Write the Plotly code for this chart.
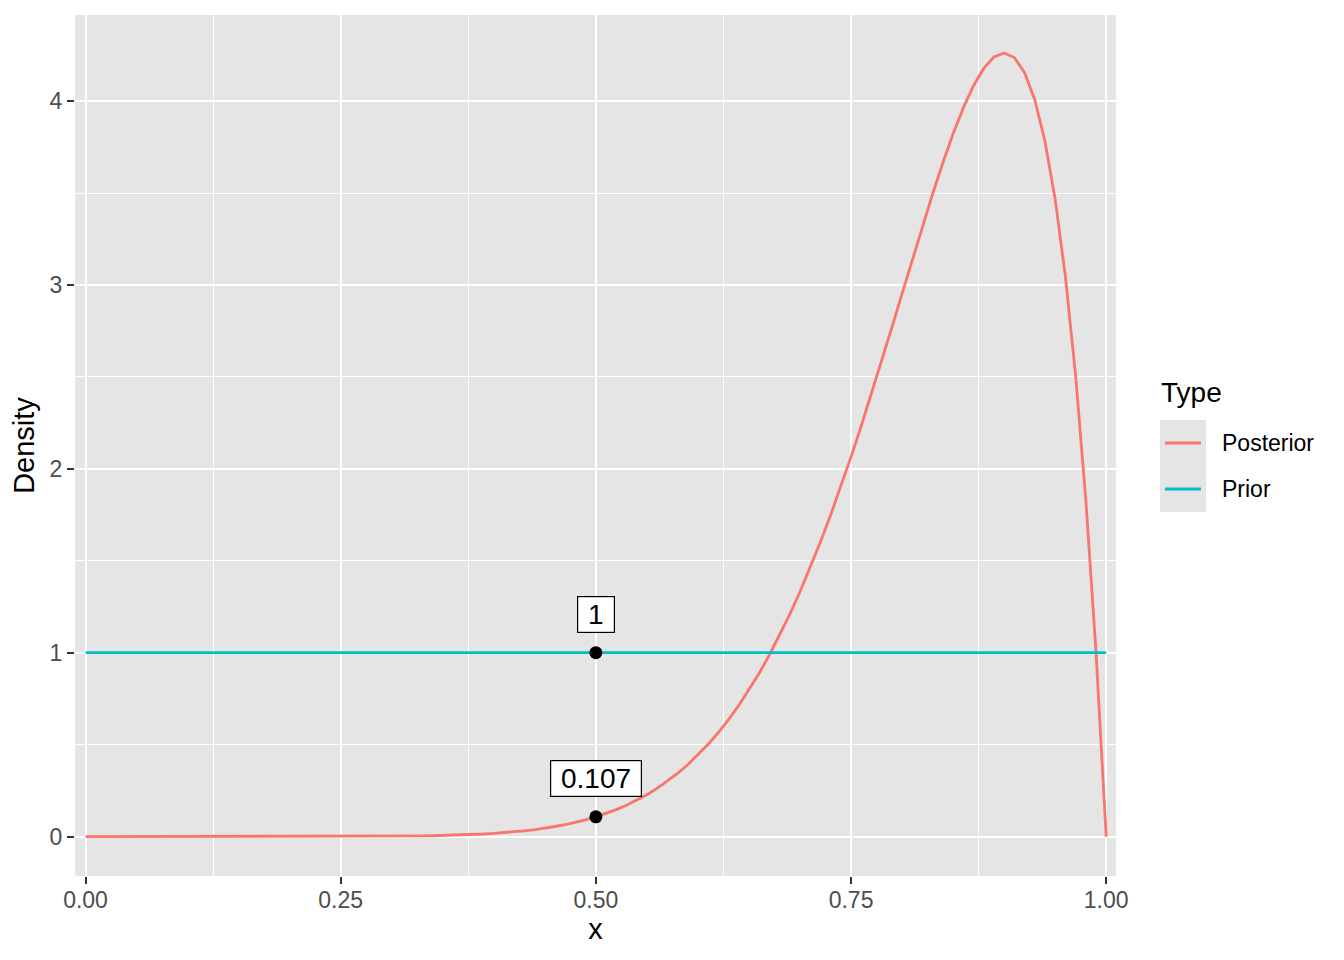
import plotly.graph_objects as go

# ---- data ----
x_post = [0.00, 0.05, 0.10, 0.15, 0.20, 0.25, 0.30, 0.31, 0.32, 0.33, 0.34, 0.35,
          0.36, 0.37, 0.38, 0.39,
          0.40, 0.41, 0.42, 0.43, 0.44, 0.45, 0.46, 0.47, 0.48, 0.49,
          0.50, 0.51, 0.52, 0.53, 0.54, 0.55, 0.56, 0.57, 0.58, 0.59,
          0.60, 0.61, 0.62, 0.63, 0.64, 0.65, 0.66, 0.67, 0.68, 0.69,
          0.70, 0.71, 0.72, 0.73, 0.74, 0.75, 0.76, 0.77, 0.78, 0.79,
          0.80, 0.81, 0.82, 0.83, 0.84, 0.85, 0.86, 0.87, 0.88, 0.89,
          0.90, 0.91, 0.92, 0.93, 0.94, 0.95, 0.96, 0.97, 0.98, 0.99, 1.00]
y_post = [0.0, 0.0, 0.0, 0.000004, 0.000045, 0.000315, 0.001516, 0.002007, 0.002632, 0.003420, 0.004408, 0.005635,
          0.007150, 0.009006, 0.011268, 0.014006,
          0.017302, 0.021247, 0.025945, 0.031513, 0.038076, 0.045779, 0.054779, 0.065244, 0.077370, 0.091353,
          0.107422, 0.125811, 0.146778, 0.170599, 0.197560, 0.227966, 0.262144, 0.300426, 0.343161, 0.390701,
          0.443419, 0.501681, 0.565868, 0.636296, 0.713354, 0.797408, 0.888725, 0.987600, 1.094259, 1.208940,
          1.331669, 1.462564, 1.601557, 1.748489, 1.903061, 2.064829, 2.233184, 2.407414, 2.586230, 2.768535,
          2.952790, 3.136986, 3.318836, 3.495778, 3.664584, 3.821681, 3.962928, 4.083294, 4.177510, 4.239308,
          4.261625, 4.236537, 4.155017, 4.007165, 3.781760, 3.466370, 3.047123, 2.508766, 1.834224, 1.004869, 0.0]
x_prior = [0.0, 1.0]
y_prior = [1.0, 1.0]

point_x = [0.5, 0.5]
point_y = [1.0, 0.107422]
point_labels = ["1", "0.107"]

x_tickvals = [0.0, 0.25, 0.5, 0.75, 1.0]
x_ticktext = ["0.00", "0.25", "0.50", "0.75", "1.00"]
y_tickvals = [0, 1, 2, 3, 4]
y_ticktext = ["0", "1", "2", "3", "4"]

legend_title = "Type"
series_names = ["Posterior", "Prior"]
series_colors = ["#F8766D", "#00BFC4"]

FONT = "Liberation Sans, Arial, Helvetica, sans-serif"
PANEL = "#E5E5E5"

# page offset: the HTML body has an 8px margin
OFF = 8
L, T, PW, PH = 75 - OFF, 15 - OFF, 1041, 861
W, H = 1344 - OFF, 960 - OFF


def px_x(px):
    return (px - 75) / PW


def px_y(py):
    return (876 - py) / PH


fig = go.Figure()
fig.add_trace(go.Scatter(x=x_post, y=y_post, mode="lines", name=series_names[0],
                         showlegend=False,
                         line=dict(color=series_colors[0], width=2.8)))
fig.add_trace(go.Scatter(x=x_prior, y=y_prior, mode="lines", name=series_names[1],
                         showlegend=False,
                         line=dict(color=series_colors[1], width=2.8)))
fig.add_trace(go.Scatter(x=point_x, y=point_y, mode="markers", showlegend=False,
                         marker=dict(color="black", size=13)))

NUDGE = 0.21
for px, py, lab in zip(point_x, point_y, point_labels):
    fig.add_annotation(x=px, y=py + NUDGE, text="&nbsp;" + lab + "&nbsp;", showarrow=False,
                       font=dict(family=FONT, size=28, color="black"),
                       bgcolor="white", bordercolor="black", borderwidth=1.2,
                       borderpad=2, xref="x", yref="y")

# ---- legend (drawn manually to match ggplot spacing) ----
fig.add_annotation(xref="paper", yref="paper", x=px_x(1159), y=px_y(393),
                   xanchor="left", yanchor="middle", showarrow=False,
                   text=legend_title, font=dict(family=FONT, size=28, color="black"))
fig.add_shape(type="rect", xref="paper", yref="paper", layer="above",
              x0=px_x(1160), x1=px_x(1206), y0=px_y(512), y1=px_y(420),
              fillcolor=PANEL, line=dict(width=0))
for i, (name, col) in enumerate(zip(series_names, series_colors)):
    cy = 443 + 46 * i
    fig.add_shape(type="line", xref="paper", yref="paper", layer="above",
                  x0=px_x(1165), x1=px_x(1201), y0=px_y(cy), y1=px_y(cy),
                  line=dict(color=col, width=2.8))
    fig.add_annotation(xref="paper", yref="paper", x=px_x(1220), y=px_y(cy),
                       xanchor="left", yanchor="middle", showarrow=False,
                       text=name, font=dict(family=FONT, size=23, color="black"))

axis_common = dict(
    showline=False, zeroline=False, ticks="outside", ticklen=7, tickwidth=2.2,
    tickcolor="#333333", gridcolor="white", gridwidth=2.2,
    tickfont=dict(family=FONT, size=23, color="#4D4D4D"),
)

fig.update_xaxes(**axis_common, range=[-0.0103, 1.0096],
                 tickmode="array", tickvals=x_tickvals, ticktext=x_ticktext,
                 ticklabelstandoff=-4,
                 minor=dict(tick0=0.125, dtick=0.25, gridcolor="white", gridwidth=1.2, showgrid=True),
                 title=dict(text="x", font=dict(family=FONT, size=29, color="black"), standoff=6))
fig.update_yaxes(**axis_common, range=[-0.2144, 4.468],
                 tickmode="array", tickvals=y_tickvals, ticktext=y_ticktext,
                 minor=dict(tick0=0.5, dtick=1, gridcolor="white", gridwidth=1.2, showgrid=True),
                 title=dict(text="Density", font=dict(family=FONT, size=29, color="black"), standoff=10))

fig.update_layout(
    width=W, height=H,
    margin=dict(l=L, r=W - L - PW, t=T, b=H - T - PH, autoexpand=False),
    plot_bgcolor=PANEL, paper_bgcolor="white",
    font=dict(family=FONT),
    showlegend=False,
)

fig.write_html("out.html")
